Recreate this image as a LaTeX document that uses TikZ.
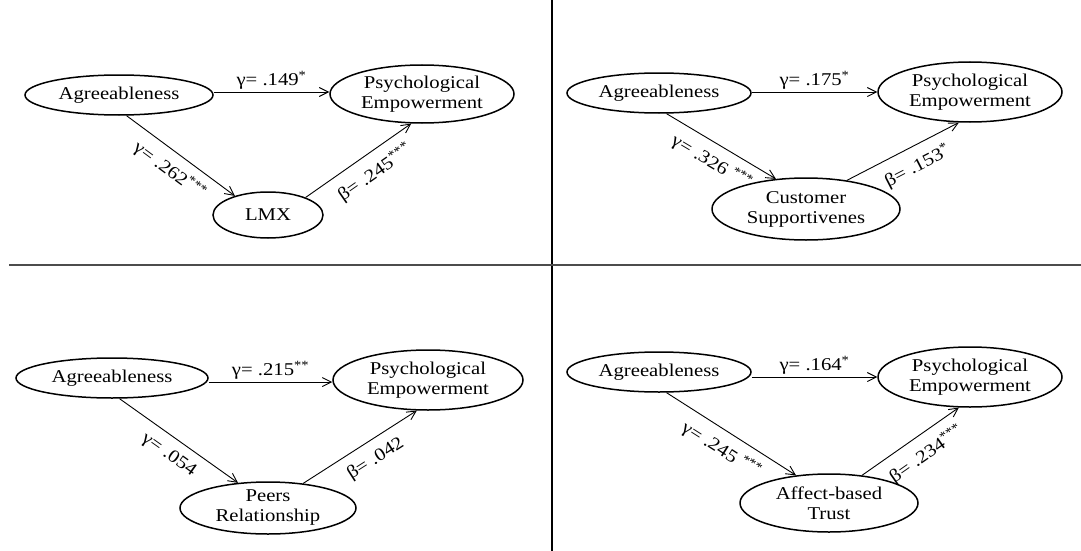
\documentclass[tikz,border=0pt]{standalone}
\usepackage{fontspec}
\setmainfont[FakeStretch=1.15]{Liberation Serif}
\usetikzlibrary{shapes.geometric,arrows.meta}
\begin{document}
\begin{tikzpicture}[x=1pt,y=-1pt,
  var/.style={draw, ellipse, line width=1.5pt, inner sep=0pt, align=center,
    font=\fontsize{18}{20}\selectfont},
  conn/.style={line width=0.9pt, -{Straight Barb[length=9pt,width=9pt,line width=0.9pt]}},
  lab/.style={font=\fontsize{18}{20}\selectfont, inner sep=1pt},
  divider/.style={line width=2pt}]
\useasboundingbox (0,0) rectangle (1081,551);
% dividers
\coordinate (vtop) at (552,0);
\coordinate (vbot) at (552,551);
\coordinate (hl) at (9,265);
\coordinate (hr) at (1081,265);
\draw[divider, black] (vtop) -- (vbot);
\draw[divider, black!70] (hl) -- (hr);

% ---------- panel 1 ----------
\node[var, minimum width=188pt, minimum height=40pt] (a1) at (119,95) {Agreeableness};
\node[var, minimum width=184pt, minimum height=58pt] (p1) at (422,94) {Psychological\\Empowerment};
\node[var, minimum width=110pt, minimum height=46pt] (m1) at (268,215) {LMX};
\draw[conn] (a1.east |- 0,92) -- (p1.west |- 0,92) node[lab, midway, above=1pt] {γ= .149\textsuperscript{*}};
\draw[conn] (a1.290) -- (m1.150) node[lab, midway, sloped, below=8pt] {γ= .262\textsuperscript{***}};
\draw[conn] (m1.25) -- (p1.250) node[lab, pos=0.55, sloped, below=9pt] {β= .245\textsuperscript{***}};

% ---------- panel 2 ----------
\node[var, minimum width=184pt, minimum height=40pt] (a2) at (659,93) {Agreeableness};
\node[var, minimum width=184pt, minimum height=60pt] (p2) at (970,92) {Psychological\\Empowerment};
\node[var, minimum width=188pt, minimum height=62pt] (m2) at (806,209) {Customer\\Supportivenes};
\draw[conn] (a2.east |- 0,92) -- (p2.west |- 0,92) node[lab, midway, above=1pt] {γ= .175\textsuperscript{*}};
\draw[conn] (a2.290) -- (m2.135) node[lab, midway, sloped, below=8pt] {γ= .326 \textsuperscript{***}};
\draw[conn] (m2.35) -- (p2.250) node[lab, pos=0.55, sloped, below=9pt] {β= .153\textsuperscript{*}};

% ---------- panel 3 ----------
\node[var, minimum width=192pt, minimum height=40pt] (a3) at (112,378) {Agreeableness};
\node[var, minimum width=190pt, minimum height=60pt] (p3) at (428,380) {Psychological\\Empowerment};
\node[var, minimum width=176pt, minimum height=52pt] (m3) at (268,508) {Peers\\Relationship};
\draw[conn] (a3.east |- 0,382) -- (p3.west |- 0,382) node[lab, midway, above=1pt] {γ= .215\textsuperscript{**}};
\draw[conn] (a3.290) -- (m3.140) node[lab, midway, sloped, below=8pt] {γ= .054};
\draw[conn] (m3.35) -- (p3.250) node[lab, pos=0.55, sloped, below=9pt] {β= .042};

% ---------- panel 4 ----------
\node[var, minimum width=184pt, minimum height=40pt] (a4) at (659,372) {Agreeableness};
\node[var, minimum width=184pt, minimum height=60pt] (p4) at (970,377) {Psychological\\Empowerment};
\node[var, minimum width=178pt, minimum height=58pt] (m4) at (829,503) {Affect-based\\Trust};
\draw[conn] (a4.east |- 0,377) -- (p4.west |- 0,377) node[lab, midway, above=1pt] {γ= .164\textsuperscript{*}};
\draw[conn] (a4.290) -- (m4.140) node[lab, midway, sloped, below=8pt] {γ= .245 \textsuperscript{***}};
\draw[conn] (m4.40) -- (p4.250) node[lab, pos=0.55, sloped, below=9pt] {β= .234\textsuperscript{***}};
\end{tikzpicture}
\end{document}
